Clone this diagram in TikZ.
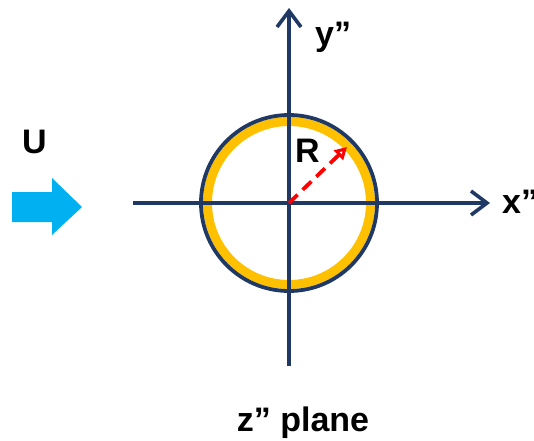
\documentclass[tikz,border=0pt]{standalone}
\usepackage{fontspec}
\setmainfont{Liberation Sans}
\usetikzlibrary{arrows.meta}
\definecolor{navy}{RGB}{31,56,100}
\definecolor{gold}{RGB}{255,192,0}
\definecolor{flowblue}{RGB}{0,176,240}
\tikzset{
  axis/.style={draw=navy,line width=3.6pt,-{Straight Barb[length=16pt,width=24pt,line width=3.6pt]}},
  lbl/.style={font=\fontsize{34}{40}\selectfont\bfseries,inner sep=0pt,text=black},
}
\begin{document}
\begin{tikzpicture}[x=1pt,y=-1pt]
\useasboundingbox (0,0) rectangle (534,440);
\coordinate (O) at (289,203);
\coordinate (xs) at (133,203);
\coordinate (xe) at (490,203);
\coordinate (ys) at (289,366);
\coordinate (ye) at (289,8);
\coordinate (Rtip) at (347,147);
% circle
\draw[gold,line width=9pt] (O) circle[radius=81.5];
\draw[navy,line width=3.8pt] (O) circle[radius=88];
% axes
\draw[axis] (xs) -- (xe);
\draw[axis] (ys) -- (ye);
% radius
\draw[red,line width=3.8pt,dash pattern=on 12pt off 7pt,-{Triangle[open,length=12pt,width=13pt,line width=3pt]}] (O) -- (Rtip);
% flow arrow
\fill[flowblue] (12,192) -- (52,192) -- (52,178) -- (82,207) -- (52,235) -- (52,222) -- (12,222) -- cycle;
% labels
\node[lbl,anchor=base] (U) at (34.5,153) {U};
\node[lbl,anchor=base] (R) at (307.5,162) {R};
\node[lbl,anchor=base west] (ylab) at (315,45) {y”};
\node[lbl,anchor=base west] (xlab) at (502,213) {x”};
\node[lbl,anchor=base] (plane) at (303,431) {z” plane};
\end{tikzpicture}
\end{document}
